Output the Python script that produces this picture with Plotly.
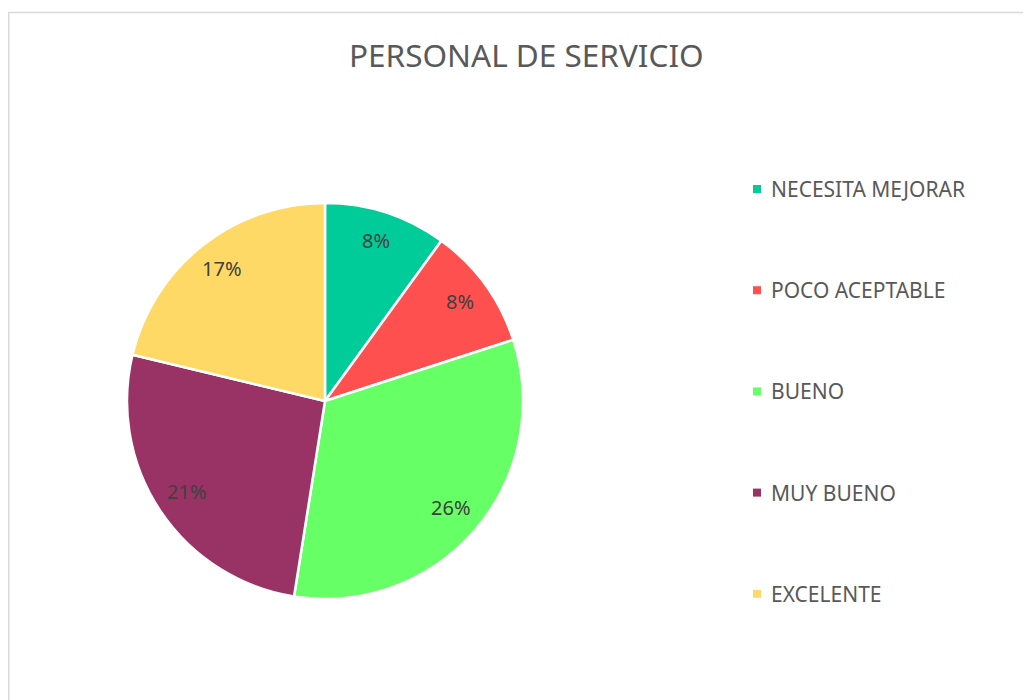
import math
import plotly.graph_objects as go

categories = ["NECESITA MEJORAR", "POCO ACEPTABLE", "BUENO", "MUY BUENO", "EXCELENTE"]
values = [8, 8, 26, 21, 17]
colors = ["#00CC99", "#FF5050", "#66FF66", "#993366", "#FFD966"]
title_text = "PERSONAL DE SERVICIO"

W, H = 1031, 700
FONT = "Noto Sans"

# pie placement (pixels within the figure)
PX0, PX1, PY0, PY1 = 119, 515, 195, 591
CX, CY, R = (PX0 + PX1) / 2, (PY0 + PY1) / 2, (PX1 - PX0) / 2

fig = go.Figure(go.Pie(
    labels=categories,
    values=values,
    sort=False,
    direction="clockwise",
    rotation=0,
    marker=dict(colors=colors, line=dict(color="white", width=2.5)),
    textinfo="none",
    hoverinfo="label+value",
    showlegend=False,
    domain=dict(x=[PX0 / W, PX1 / W], y=[1 - PY1 / H, 1 - PY0 / H]),
))

shapes = [dict(type="rect", xref="paper", yref="paper",
               x0=0.8 / W, x1=1.05, y0=-0.05, y1=1 - 4.5 / H,
               line=dict(color="#D9D9D9", width=1.5), fillcolor="rgba(0,0,0,0)")]
annotations = [dict(text=title_text, x=518 / W, y=1 - 46 / H, xref="paper", yref="paper",
                    xanchor="center", yanchor="middle", showarrow=False,
                    font=dict(family=FONT, size=31.5, color="#595959"))]

# data labels at ~84% of radius along each slice's mid-angle
total = sum(values)
cum = 0
for v in values:
    mid = (cum + v / 2) / total * 2 * math.pi
    cum += v
    rr = 0.84 * R
    x = CX + rr * math.sin(mid)
    y = CY - rr * math.cos(mid)
    annotations.append(dict(text=f"{v}%", x=x / W, y=1 - (y - 2) / H, xref="paper", yref="paper",
                            xanchor="center", yanchor="middle", showarrow=False,
                            font=dict(family=FONT, size=20, color="#404040")))

legend_top, legend_step = 181, 101.2
for i, (cat, col) in enumerate(zip(categories, colors)):
    yc = legend_top + i * legend_step
    shapes.append(dict(type="rect", xref="paper", yref="paper",
                       x0=745 / W, x1=753 / W, y0=1 - (yc + 4) / H, y1=1 - (yc - 4) / H,
                       line=dict(width=0), fillcolor=col))
    annotations.append(dict(text=cat, x=761 / W, y=1 - yc / H, xref="paper", yref="paper",
                            xanchor="left", yanchor="middle", showarrow=False,
                            font=dict(family=FONT, size=21, color="#595959")))

fig.update_layout(
    width=W, height=H,
    margin=dict(l=0, r=0, t=0, b=0),
    paper_bgcolor="white", plot_bgcolor="white",
    shapes=shapes, annotations=annotations,
)

fig.write_html("out.html")
